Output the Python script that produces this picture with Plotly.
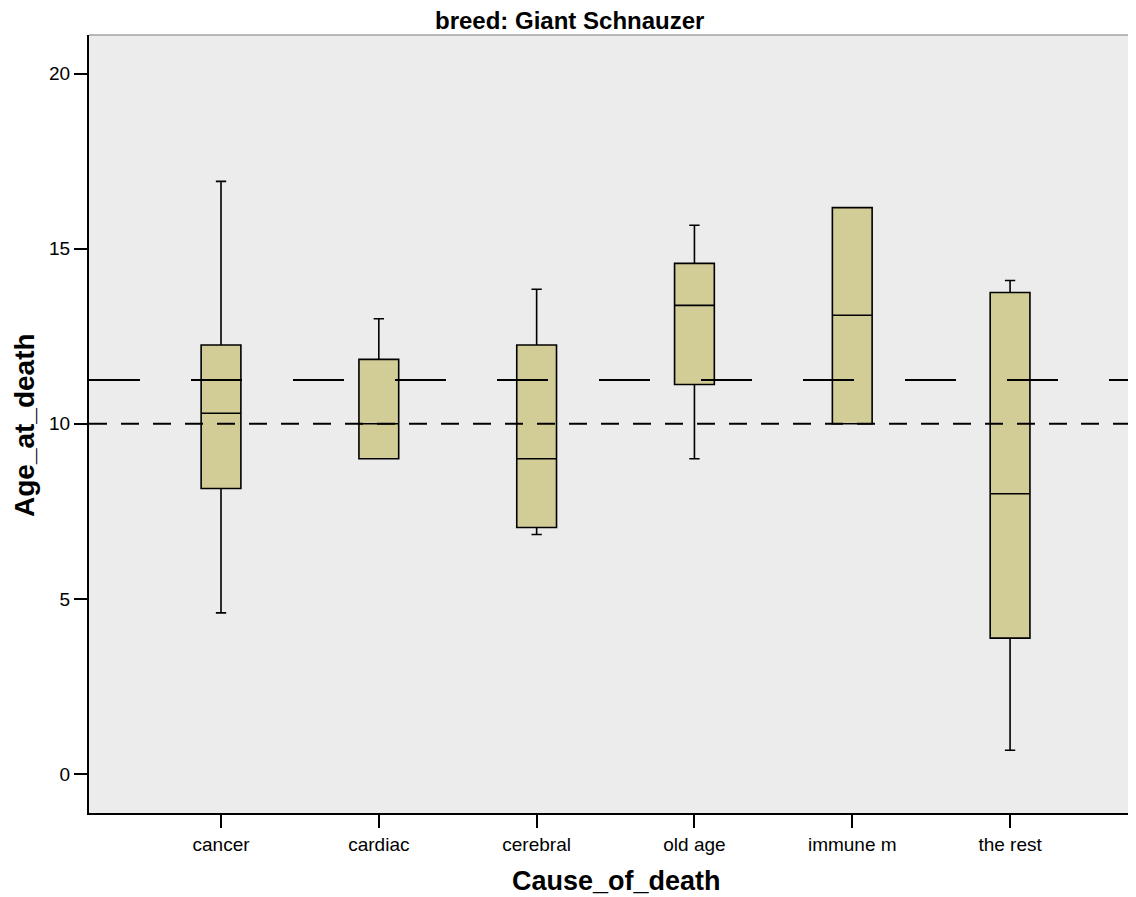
import plotly.graph_objects as go

# ---- data ----
categories = ["cancer", "cardiac", "cerebral", "old age", "immune m", "the rest"]
lower_whisker = [4.6, 9.0, 6.84, 9.0, 10.0, 0.68]
q1_values = [8.15, 9.0, 7.04, 11.12, 10.0, 3.88]
median_values = [10.3, 10.0, 9.0, 13.38, 13.1, 8.0]
q3_values = [12.25, 11.84, 12.25, 14.58, 16.17, 13.75]
upper_whisker = [16.92, 13.0, 13.84, 15.67, 16.17, 14.09]
y_tick_values = [0, 5, 10, 15, 20]
ref_line_short_dash = 10.0
ref_line_long_dash = 11.25

FONT = "Liberation Sans, Arial, sans-serif"
BOX_FILL = "#D2CD96"
PLOT_BG = "#ECECEC"

fig = go.Figure()
fig.add_trace(go.Box(
    x=categories,
    q1=q1_values,
    median=median_values,
    q3=q3_values,
    lowerfence=lower_whisker,
    upperfence=upper_whisker,
    boxpoints=False,
    fillcolor=BOX_FILL,
    line=dict(color="black", width=1.6),
    width=0.252,
    whiskerwidth=0.26,
    showlegend=False,
    hoverinfo="skip",
))

# reference lines
fig.add_shape(type="line", xref="paper", x0=0, x1=1, yref="y",
              y0=ref_line_long_dash, y1=ref_line_long_dash,
              line=dict(color="black", width=2, dash="51px,51px"), layer="above")
fig.add_shape(type="line", xref="paper", x0=0, x1=1, yref="y",
              y0=ref_line_short_dash, y1=ref_line_short_dash,
              line=dict(color="black", width=2, dash="18px,14px"), layer="above")
# thin grey top frame
fig.add_shape(type="line", xref="paper", x0=0, x1=1, yref="paper", y0=1, y1=1,
              line=dict(color="#7a7a7a", width=1.2), layer="above")

# page body has an 8px margin, so the figure is 8px smaller and margins shifted
fig.update_layout(
    width=1128, height=889,
    margin=dict(l=81, r=0, t=27, b=84),
    paper_bgcolor="white",
    plot_bgcolor=PLOT_BG,
    font=dict(family=FONT, color="black"),
    showlegend=False,
    annotations=[
        dict(text="<b>breed: Giant Schnauzer</b>", xref="paper", yref="paper",
             x=(569 - 89) / 1047, y=1 + 14.5 / 778, xanchor="center", yanchor="middle",
             showarrow=False, font=dict(size=24, family=FONT)),
        dict(text="<b>Cause_of_death</b>", xref="paper", yref="paper",
             x=(616 - 89) / 1047, y=-(881 - 813) / 778, xanchor="center", yanchor="middle",
             showarrow=False, font=dict(size=27, family=FONT)),
        dict(text="<b>Age_at_death</b>", xref="paper", yref="paper",
             x=(25 - 89) / 1047, y=(813 - 425) / 778, xanchor="center", yanchor="middle",
             textangle=-90, showarrow=False, font=dict(size=28, family=FONT)),
    ],
)

fig.update_xaxes(
    type="category",
    range=[-0.8365, 5.798],
    showline=True, linecolor="black", linewidth=2,
    ticks="outside", ticklen=13, tickwidth=2, tickcolor="black",
    showgrid=False, zeroline=False,
    tickfont=dict(size=19, family=FONT),
)
fig.update_yaxes(
    range=[-1.113, 21.1],
    tickvals=y_tick_values,
    showline=True, linecolor="black", linewidth=2,
    ticks="outside", ticklen=13, tickwidth=2, tickcolor="black",
    showgrid=False, zeroline=False,
    tickfont=dict(size=19, family=FONT),
)

fig.write_html("out.html")
